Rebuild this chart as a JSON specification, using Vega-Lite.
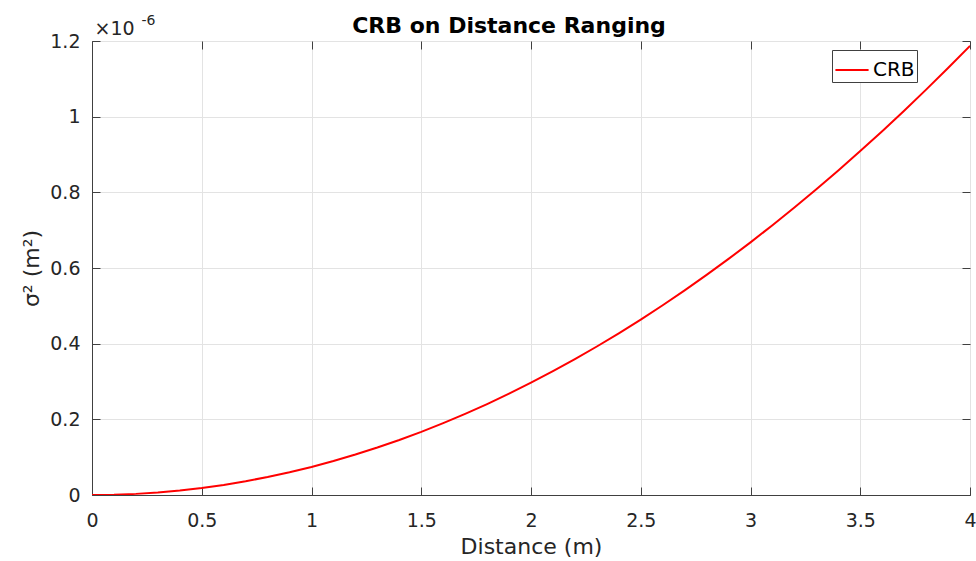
{
  "$schema": "https://vega.github.io/schema/vega-lite/v6.json",
  "width": 878,
  "height": 454,
  "autosize": {"type": "none"},
  "padding": {"left": 92, "top": 41, "right": 6, "bottom": 66},
  "config": {
    "font": "DejaVu Sans",
    "view": {"stroke": "#404040", "strokeWidth": 1},
    "axis": {
      "domainColor": "#404040",
      "tickColor": "#404040",
      "gridColor": "#e3e3e3",
      "gridOpacity": 1,
      "labelColor": "#262626",
      "titleColor": "#262626",
      "labelFontSize": 19,
      "titleFontSize": 22,
      "titleFontWeight": "normal",
      "tickSize": -8,
      "labelFlush": false,
      "labelOverlap": false,
      "format": "~g"
    }
  },
  "title": {
    "text": "CRB on Distance Ranging",
    "fontSize": 22,
    "fontWeight": "bold",
    "color": "#000000",
    "baseline": "bottom",
    "offset": -47,
    "dx": -22
  },
  "data": {
    "values": [
      {"distance": 0.0, "crb": 0.0},
      {"distance": 0.1, "crb": 0.00074},
      {"distance": 0.2, "crb": 0.00297},
      {"distance": 0.3, "crb": 0.00668},
      {"distance": 0.4, "crb": 0.01187},
      {"distance": 0.5, "crb": 0.01855},
      {"distance": 0.6, "crb": 0.02671},
      {"distance": 0.7, "crb": 0.03636},
      {"distance": 0.8, "crb": 0.04749},
      {"distance": 0.9, "crb": 0.0601},
      {"distance": 1.0, "crb": 0.0742},
      {"distance": 1.1, "crb": 0.08978},
      {"distance": 1.2, "crb": 0.10685},
      {"distance": 1.3, "crb": 0.1254},
      {"distance": 1.4, "crb": 0.14543},
      {"distance": 1.5, "crb": 0.16695},
      {"distance": 1.6, "crb": 0.18995},
      {"distance": 1.7, "crb": 0.21444},
      {"distance": 1.8, "crb": 0.24041},
      {"distance": 1.9, "crb": 0.26786},
      {"distance": 2.0, "crb": 0.2968},
      {"distance": 2.1, "crb": 0.32722},
      {"distance": 2.2, "crb": 0.35913},
      {"distance": 2.3, "crb": 0.39252},
      {"distance": 2.4, "crb": 0.42739},
      {"distance": 2.5, "crb": 0.46375},
      {"distance": 2.6, "crb": 0.50159},
      {"distance": 2.7, "crb": 0.54092},
      {"distance": 2.8, "crb": 0.58173},
      {"distance": 2.9, "crb": 0.62402},
      {"distance": 3.0, "crb": 0.6678},
      {"distance": 3.1, "crb": 0.71306},
      {"distance": 3.2, "crb": 0.75981},
      {"distance": 3.3, "crb": 0.80804},
      {"distance": 3.4, "crb": 0.85775},
      {"distance": 3.5, "crb": 0.90895},
      {"distance": 3.6, "crb": 0.96163},
      {"distance": 3.7, "crb": 1.0158},
      {"distance": 3.8, "crb": 1.07145},
      {"distance": 3.9, "crb": 1.12858},
      {"distance": 4.0, "crb": 1.1872}
    ]
  },
  "layer": [
    {
      "mark": {"type": "line", "strokeWidth": 2, "clip": true},
      "encoding": {
        "x": {
          "field": "distance",
          "type": "quantitative",
          "scale": {"domain": [0, 4], "nice": false},
          "axis": {
            "title": "Distance (m)",
            "values": [0, 0.5, 1, 1.5, 2, 2.5, 3, 3.5, 4],
            "labelPadding": 24,
            "titlePadding": 6,
            "grid": true
          }
        },
        "y": {
          "field": "crb",
          "type": "quantitative",
          "scale": {"domain": [0, 1.2], "nice": false},
          "axis": {
            "title": "σ² (m²)",
            "values": [0, 0.2, 0.4, 0.6, 0.8, 1, 1.2],
            "labelPadding": 20,
            "titlePadding": 6,
            "grid": true
          }
        },
        "color": {
          "datum": "CRB",
          "type": "nominal",
          "scale": {"range": ["#ff0000"]},
          "legend": {
            "title": null,
            "orient": "none",
            "legendX": 740,
            "legendY": 9,
            "symbolType": "stroke",
            "symbolStrokeWidth": 2,
            "symbolSize": 1100,
            "labelFontSize": 20,
            "labelOffset": 3,
            "labelColor": "#000000",
            "strokeColor": "#404040",
            "fillColor": "#ffffff",
            "padding": 2
          }
        }
      }
    },
    {
      "mark": {"type": "line", "opacity": 0},
      "encoding": {
        "x": {
          "field": "distance",
          "type": "quantitative",
          "axis": {
            "orient": "top",
            "labels": false,
            "grid": false,
            "domain": false,
            "values": [0, 0.5, 1, 1.5, 2, 2.5, 3, 3.5, 4],
            "title": "×10",
            "titleFontSize": 19,
            "titleAngle": 0,
            "titleAlign": "left",
            "titleBaseline": "alphabetic",
            "titleX": 2,
            "titleY": -7
          }
        },
        "y": {
          "field": "crb",
          "type": "quantitative",
          "axis": {
            "orient": "right",
            "labels": false,
            "grid": false,
            "domain": false,
            "values": [0, 0.2, 0.4, 0.6, 0.8, 1, 1.2],
            "title": "-6",
            "titleFontSize": 14,
            "titleAngle": 0,
            "titleAlign": "left",
            "titleBaseline": "alphabetic",
            "titleX": -829,
            "titleY": -17
          }
        }
      }
    }
  ],
  "resolve": {"axis": {"x": "independent", "y": "independent"}}
}
